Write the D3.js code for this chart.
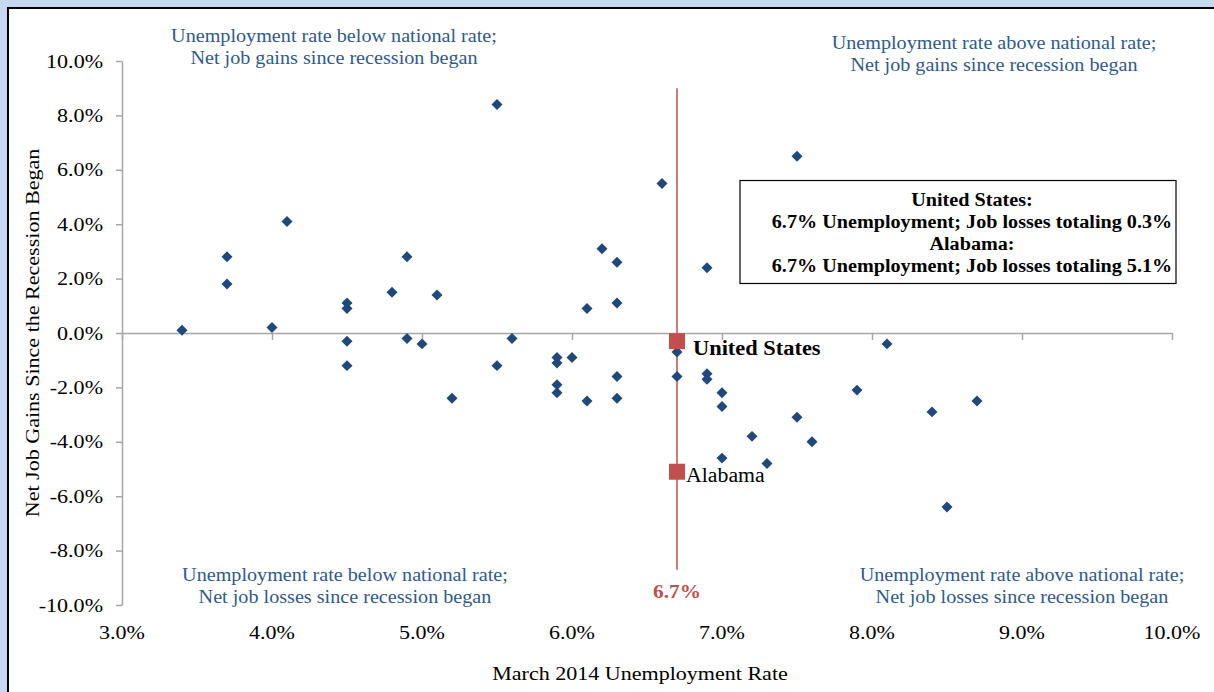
<!DOCTYPE html>
<html><head><meta charset="utf-8">
<script src="https://cdn.jsdelivr.net/npm/d3@7"></script>
<style>
html,body{margin:0;padding:0;background:#c6d9f0;}
svg{display:block;}
text{font-family:"Liberation Serif","DejaVu Serif",serif;}
</style></head>
<body>
<svg id="c" width="1214" height="692"></svg>
<script>
// ---- data ----
const unemployment = [3.4,3.7,3.7,4.1,4.0,4.5,4.5,4.5,4.5,4.8,4.9,4.9,5.0,5.1,5.2,5.5,5.5,5.6,5.9,5.9,5.9,5.9,6.0,6.1,6.1,6.2,6.3,6.3,6.3,6.3,6.6,6.7,6.7,6.9,6.9,6.9,7.0,7.0,7.0,7.2,7.3,7.5,7.5,7.6,7.9,8.1,8.4,8.5,8.7];
const jobChange    = [0.1,2.8,1.8,4.1,0.2,1.1,0.9,-0.3,-1.2,1.5,2.8,-0.2,-0.4,1.4,-2.4,8.4,-1.2,-0.2,-0.9,-1.1,-1.9,-2.2,-0.9,0.9,-2.5,3.1,2.6,1.1,-1.6,-2.4,5.5,-0.7,-1.6,2.4,-1.5,-1.7,-2.2,-2.7,-4.6,-3.8,-4.8,6.5,-3.1,-4.0,-2.1,-0.4,-2.9,-6.4,-2.5];
const highlightNames = ["United States","Alabama"];
const highlightX = [6.7,6.7];
const highlightY = [-0.3,-5.1];
const refLineX = 6.7;
const refLineY = [9.0,-8.7];
const xTicks = [3,4,5,6,7,8,9,10];
const yTicks = [10,8,6,4,2,0,-2,-4,-6,-8,-10];
const quadrantLabels = [
  ["Unemployment rate below national rate;","Net job gains since recession began"],
  ["Unemployment rate above national rate;","Net job gains since recession began"],
  ["Unemployment rate below national rate;","Net job losses since recession began"],
  ["Unemployment rate above national rate;","Net job losses since recession began"]
];
const boxLines = ["United States:","6.7% Unemployment; Job losses totaling 0.3%","Alabama:","6.7% Unemployment; Job losses totaling 5.1%"];
const xTitle = "March 2014 Unemployment Rate";
const yTitle = "Net Job Gains Since the Recession Began";

// ---- helpers ----
// widen Liberation Serif glyphs to approximate the wider Cambria face of the original
function stretch(sel, k){
  sel.each(function(){
    const L = this.getComputedTextLength();
    if (L > 0) d3.select(this).attr("textLength", L*k).attr("lengthAdjust","spacingAndGlyphs");
  });
}

// ---- drawing ----
const svg = d3.select("#c");
svg.append("rect").attr("x",8).attr("y",8).attr("width",1230).attr("height",700)
  .attr("fill","#fff").attr("stroke","#000").attr("stroke-width",2);

const x = d3.scaleLinear().domain([3,10]).range([122,1172]);
const y = d3.scaleLinear().domain([-10,10]).range([605,61]);
const axisCol = "#a6a6a6";
const fmt = d => d.toFixed(1)+"%";

// y axis
const ya = svg.append("g").attr("transform",`translate(${x(3)},0)`)
  .call(d3.axisLeft(y).tickValues(yTicks).tickSize(6).tickSizeOuter(0).tickFormat(fmt));
ya.select(".domain").attr("stroke",axisCol).attr("stroke-width",1.5);
ya.selectAll(".tick line").attr("stroke",axisCol).attr("stroke-width",1.5);
ya.selectAll(".tick text").attr("x",-19).attr("font-size",19).attr("fill","#000")
  .attr("font-family","Liberation Serif, serif");
stretch(ya.selectAll(".tick text"), 1.16);

// x axis at y=0
const xa = svg.append("g").attr("transform",`translate(0,${y(0)})`)
  .call(d3.axisBottom(x).tickValues(xTicks).tickSize(7).tickSizeOuter(0).tickFormat(""));
xa.select(".domain").attr("stroke",axisCol).attr("stroke-width",1.5);
xa.selectAll(".tick line").attr("stroke",axisCol).attr("stroke-width",1.5);
// x tick labels at the bottom
const xl = svg.append("g").selectAll("text").data(xTicks).join("text")
  .attr("x",d=>x(d)).attr("y",639).attr("text-anchor","middle")
  .attr("font-size",19).attr("fill","#000").text(fmt);
stretch(xl, 1.16);

// axis titles
stretch(svg.append("text").attr("x",640).attr("y",680).attr("text-anchor","middle")
  .attr("font-size",19).text(xTitle), 1.16);
stretch(svg.append("text").attr("transform",`translate(39,${y(0)}) rotate(-90)`)
  .attr("text-anchor","middle").attr("font-size",19).text(yTitle), 1.16);

// quadrant labels
const qPos = [[334,42],[994,49],[345,581],[1022,581]];
quadrantLabels.forEach((lines,i)=>{
  const t = svg.append("text").attr("text-anchor","middle").attr("font-size",18).attr("fill","#2e5a8e");
  lines.forEach((l,j)=>t.append("tspan").attr("x",qPos[i][0]).attr("y",qPos[i][1]+j*22).text(l));
  stretch(t.selectAll("tspan"), 1.12);
});

// reference line
svg.append("line").attr("x1",x(refLineX)).attr("x2",x(refLineX))
  .attr("y1",y(refLineY[0])).attr("y2",y(refLineY[1]))
  .attr("stroke","#d07a77").attr("stroke-width",2);
stretch(svg.append("text").attr("x",x(refLineX)).attr("y",598).attr("text-anchor","middle")
  .attr("font-size",19).attr("font-weight","bold").attr("fill","#c0504d").text(fmt(refLineX)), 1.12);

// state points (diamonds)
const diamond = d3.symbol().type(d3.symbolSquare).size(60);
svg.append("g").selectAll("path").data(unemployment.map((u,i)=>[u,jobChange[i]])).join("path")
  .attr("d",diamond).attr("fill","#1f497d")
  .attr("transform",d=>`translate(${x(d[0])},${y(d[1])}) rotate(45)`);

// highlighted points
const sq = d3.symbol().type(d3.symbolSquare).size(256);
svg.append("g").selectAll("path").data(highlightX.map((v,i)=>[v,highlightY[i]])).join("path")
  .attr("d",sq).attr("fill","#c0504d")
  .attr("transform",d=>`translate(${x(d[0])},${y(d[1])})`);
stretch(svg.append("text").attr("x",x(highlightX[0])+16).attr("y",y(highlightY[0])+14)
  .attr("font-size",20).attr("font-weight","bold").text(highlightNames[0]), 1.12);
stretch(svg.append("text").attr("x",x(highlightX[1])+9).attr("y",y(highlightY[1])+10)
  .attr("font-size",20).text(highlightNames[1]), 1.09);

// info box
svg.append("rect").attr("x",740).attr("y",180.5).attr("width",436).attr("height",103)
  .attr("fill","#fff").attr("stroke","#000").attr("stroke-width",1.2);
const bt = svg.append("text").attr("text-anchor","middle").attr("font-size",18).attr("font-weight","bold");
boxLines.forEach((l,j)=>bt.append("tspan").attr("x",972).attr("y",206+j*22).text(l));
stretch(bt.selectAll("tspan"), 1.12);
</script>
</body></html>
